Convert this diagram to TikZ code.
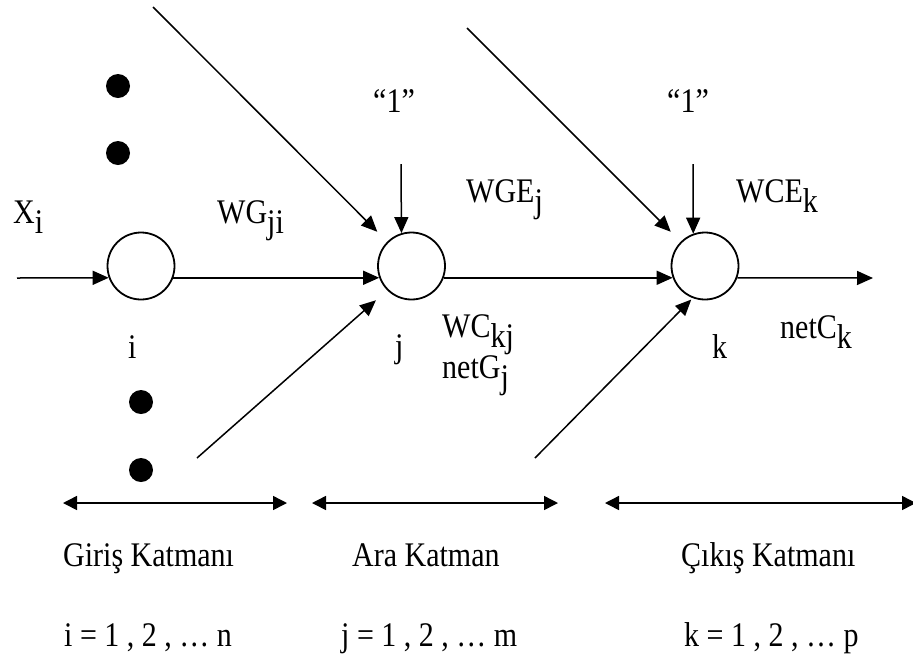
\documentclass[tikz,border=0pt]{standalone}
\usepackage{fontspec}
\usepackage{graphicx}
\setmainfont{Liberation Serif}
\usetikzlibrary{arrows.meta}
\newcommand\sbx[1]{\raisebox{-0.29em}{#1}}
\newcommand\tx[1]{\scalebox{1}[1.15]{#1}}
\begin{document}
\begin{tikzpicture}[x=1pt,y=-1pt,
 neuron/.style={circle,draw,line width=1.8pt,minimum size=67pt,inner sep=0pt},
 blob/.style={circle,fill,minimum size=24pt,inner sep=0pt},
 lbl/.style={anchor=base west,inner sep=0pt,font=\fontsize{30}{36}\selectfont},
 arr/.style={line width=1.5pt,-{Triangle[length=16pt,width=14pt]}},
 dbl/.style={line width=1.5pt,{Triangle[length=14pt,width=14pt]}-{Triangle[length=14pt,width=14pt]}},
]
\useasboundingbox (0,0) rectangle (913,657);
% neurons
\node[neuron] (i) at (141,266) {};
\node[neuron] (j) at (411.5,266) {};
\node[neuron] (k) at (705,266) {};
% dots
\node[blob] (d1) at (118,86) {};
\node[blob] (d2) at (118,153) {};
\node[blob] (d3) at (141,402) {};
\node[blob] (d4) at (141,470) {};
% free ends
\coordinate (xin) at (17,278);
\coordinate (kout) at (873,278);
\coordinate (ja) at (153,7);
\coordinate (ka) at (467,28);
\coordinate (jb) at (197,458);
\coordinate (kb) at (535,458);
\coordinate (j1) at (401,164);
\coordinate (k1) at (693,164);
% connectors
\draw[arr] (xin) -- (i.200.7);
\draw[arr] (i.-20.7) -- (j.200.7);
\draw[arr] (j.-20.7) -- (k.200.7);
\draw[arr] (k.-20.7) -- (kout);
\draw[arr] (j1) -- (j.107);
\draw[arr] (k1) -- (k.110);
\draw[arr,shorten >=14pt] (ja) -- (j.135);
\draw[arr,shorten >=14pt] (ka) -- (k.135);
\draw[arr,shorten >=15pt] (jb) -- (j.225);
\draw[arr,shorten >=2pt] (kb) -- (k.249);
% labels
\node[lbl] (lx) at (13,223) {\tx{X\sbx{i}}};
\node[lbl] (lwg) at (217,223) {\tx{WG\sbx{ji}}};
\node[lbl] (l1j) at (373,112) {\tx{“1”}};
\node[lbl] (l1k) at (667,112) {\tx{“1”}};
\node[lbl] (lwge) at (466,202) {\tx{WGE\sbx{j}}};
\node[lbl] (lwce) at (736,202) {\tx{WCE\sbx{k}}};
\node[lbl] (li) at (128,358) {\tx{i}};
\node[lbl] (lj) at (395,357) {\tx{j}};
\node[lbl] (lk) at (712,358) {\tx{k}};
\node[lbl] (lwc) at (442,337) {\tx{WC\sbx{kj}}};
\node[lbl] (lng) at (442,378) {\tx{netG\sbx{j}}};
\node[lbl] (lnc) at (780,338) {\tx{netC\sbx{k}}};
% layer spans
\coordinate (a1) at (63,503);
\coordinate (a2) at (287,503);
\coordinate (b1) at (312,503);
\coordinate (b2) at (558,503);
\coordinate (c1) at (605,503);
\coordinate (c2) at (916,503);
\draw[dbl] (a1) -- (a2);
\draw[dbl] (b1) -- (b2);
\draw[dbl] (c1) -- (c2);
\node[lbl] (g1) at (63,566) {\tx{Giriş Katmanı}};
\node[lbl] (g2) at (352,566) {\tx{Ara Katman}};
\node[lbl] (g3) at (681,566) {\tx{Çıkış Katmanı}};
\node[lbl] (r1) at (64,646) {\tx{i = 1 , 2 , … n}};
\node[lbl] (r2) at (341,646) {\tx{j = 1 , 2 , … m}};
\node[lbl] (r3) at (684,646) {\tx{k = 1 , 2 , … p}};
\end{tikzpicture}
\end{document}
